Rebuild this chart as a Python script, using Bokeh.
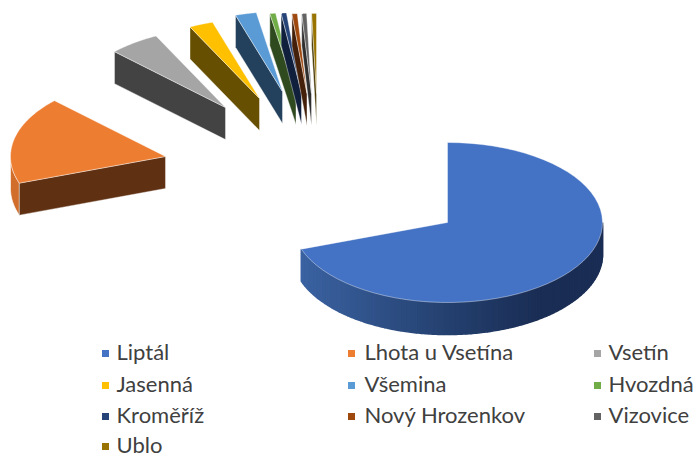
import numpy as np
from bokeh.plotting import figure
from bokeh.models import ColumnDataSource
from bokeh.core.properties import value
from bokeh.embed import file_html
from bokeh.resources import INLINE

# ---- data (percent share) ----
categories = ["Liptál", "Lhota u Vsetína", "Vsetín", "Jasenná", "Všemina",
              "Hvozdná", "Kroměříž", "Nový Hrozenkov", "Vizovice", "Ublo"]
shares = [69.6, 17.7, 5.3, 2.5, 2.2, 0.6, 0.55, 0.55, 0.5, 0.5]

# ---- styles ----
top_colors = ["#4472c4", "#ed7d31", "#a5a5a5", "#ffc000", "#5b9bd5",
              "#70ad47", "#264478", "#9e480e", "#636363", "#997300"]
face_colors = ["#263f6d", "#5f3012", "#434343", "#664f00", "#23405c",
               "#2f4a1e", "#101f3c", "#44200a", "#2e2e2e", "#453500"]
text_color = "#404040"

# ---- layout (page pixels) ----
W, H = 698, 457
RX, RY, DEPTH = 155.0, 80.0, 32.0
# where the apex of each exploded slice ends up
apex_x = [447, 165, 225, 259, 282, 295.5, 301, 306.5, 311, 316]
apex_y = [222, 156, 107, 98, 91, 92, 92, 93, 93, 93]
legend_cols = [105, 351, 597]
legend_text_cols = [116, 364, 608]
legend_rows = [353, 385, 416, 446]
text_rows = [351, 383, 414, 443.5]

p = figure(width=W, height=H, x_range=(0, W), y_range=(H, 0),
           output_backend="svg", toolbar_location=None, min_border=0,
           background_fill_color="white", border_fill_color="white")
p.axis.visible = False
p.grid.visible = False
p.outline_line_color = None


def arc(cx, cy, t0, t1, n=60, dy=0.0):
    t = np.radians(np.linspace(t0, t1, n))
    return cx + RX * np.sin(t), cy - RY * np.cos(t) + dy


def mix(c0, c1, f):
    a = [int(c0[i:i + 2], 16) for i in (1, 3, 5)]
    b = [int(c1[i:i + 2], 16) for i in (1, 3, 5)]
    return "#%02x%02x%02x" % tuple(round(u + (v - u) * f) for u, v in zip(a, b))


edges = np.concatenate([[0], np.cumsum(shares) / np.sum(shares) * 360.0])

# Liptál's curved rim, shaded from lit left to dark right, in thin strips
t_end = edges[1]
sx, sy, sc = [], [], []
grid = np.linspace(90, t_end, 80)
for a, b in zip(grid[:-1], grid[1:]):
    x0, y0 = arc(apex_x[0], apex_y[0], a, b, 4)
    x1, y1 = arc(apex_x[0], apex_y[0], b, a, 4, DEPTH)
    sx.append(np.concatenate([x0, x1]))
    sy.append(np.concatenate([y0, y1]))
    f = (x0.mean() - (apex_x[0] - RX)) / (2 * RX)
    c = mix("#3c64a4", "#24406f", f / 0.5) if f < 0.5 else mix("#24406f", "#1a2d54", min(1, (f - 0.5) / 0.3))
    sc.append(c)
p.patches(xs=sx, ys=sy, fill_color=sc, line_color=sc, line_width=1.6)

for i in range(len(categories)):
    t0, t1 = edges[i], edges[i + 1]
    cx, cy = apex_x[i], apex_y[i]
    if i > 0:
        # curved rim of an exploded slice, only where it faces the viewer
        if t0 < 270:
            x0, y0 = arc(cx, cy, t0, 270, 20)
            x1, y1 = arc(cx, cy, 270, t0, 20, DEPTH)
            p.patch(np.concatenate([x0, x1]), np.concatenate([y0, y1]),
                    fill_color=mix(top_colors[i], "#000000", 0.12),
                    line_color="white", line_width=0.6)
        # cut face below the slice's starting edge
        ex, ey = arc(cx, cy, t0, t0, 1)
        p.patch([cx, ex[0], ex[0], cx], [cy, ey[0], ey[0] + DEPTH, cy + DEPTH],
                fill_color=face_colors[i], line_color="white", line_width=0.5,
                line_alpha=0.8)
    ax, ay = arc(cx, cy, t0, t1, 60)
    p.patch(np.concatenate([[cx], ax]), np.concatenate([[cy], ay]),
            fill_color=top_colors[i], line_color="white", line_width=0.5,
            line_alpha=0.8)

# Legend
mx, my, tx, ty = [], [], [], []
for i in range(len(categories)):
    r, c = divmod(i, 3)
    mx.append(legend_cols[c])
    my.append(legend_rows[r])
    tx.append(legend_text_cols[c])
    ty.append(text_rows[r])
src = ColumnDataSource(dict(x=mx, y=my, tx=tx, ty=ty, color=top_colors, label=categories))
p.scatter("x", "y", source=src, marker="square", size=7, fill_color="color", line_color=None)
p.text("tx", "ty", text="label", source=src, text_font=value("Lato"), text_font_size="22px",
       text_color=text_color, text_baseline="middle", text_align="left")

open("out.html", "w").write(file_html(p, INLINE))
